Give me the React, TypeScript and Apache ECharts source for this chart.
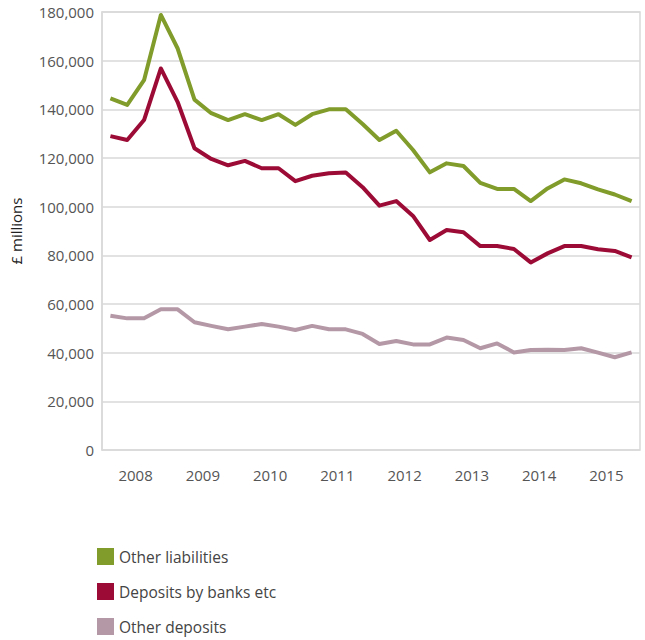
import React, { useEffect, useRef } from "react";
import * as echarts from "echarts";

const quarters: string[] = Array.from({ length: 32 }, (_, i) => `Q${i + 1}`);

const otherLiabilities = [
  144.5, 141.8, 152, 178.8, 165, 144, 138.4, 135.6, 138, 135.6, 138, 133.6, 138, 140, 140, 134,
  127.4, 131.2, 123.3, 114.1, 117.8, 116.7, 109.8, 107.3, 107.3, 102.3, 107.5, 111.2, 109.6, 107.1, 105, 102.3,
].map((v) => v * 1000);

const depositsByBanks = [
  129, 127.4, 135.6, 156.8, 143, 124, 119.6, 117, 118.8, 115.8, 115.8, 110.5, 112.7, 113.7, 114, 108,
  100.4, 102.3, 96.2, 86.3, 90.4, 89.5, 83.8, 83.8, 82.6, 77.1, 80.8, 83.8, 83.8, 82.5, 81.8, 79.2,
].map((v) => v * 1000);

const otherDeposits = [
  55.2, 54.1, 54.1, 57.8, 57.8, 52.5, 51, 49.6, 50.7, 51.8, 50.7, 49.3, 51, 49.6, 49.6, 47.7,
  43.6, 44.8, 43.4, 43.4, 46.2, 45.2, 41.8, 43.8, 40.1, 41.1, 41.2, 41.1, 41.8, 40, 38.1, 40.1,
].map((v) => v * 1000);

const yearLabels = ["2008", "2009", "2010", "2011", "2012", "2013", "2014", "2015"];
const yearPositions = [2, 6, 10, 14, 18, 22, 26, 30];

const FONT = "Open Sans";

export default function App() {
  const ref = useRef<HTMLDivElement>(null);
  useEffect(() => {
    document.body.style.margin = "0";
    if (!ref.current) return;
    const chart = echarts.init(ref.current, null, { renderer: "svg" });
    chart.setOption({
      animation: false,
      textStyle: { fontFamily: FONT },
      grid: {
        left: 97,
        right: 5,
        top: 12,
        bottom: 190,
        containLabel: false,
        show: true,
        borderColor: "#d9d9d9",
        borderWidth: 1.5,
      },
      legend: {
        orient: "vertical",
        left: 97,
        top: 548,
        padding: 0,
        icon: "rect",
        itemWidth: 17,
        itemHeight: 17,
        itemGap: 18,
        textStyle: { fontFamily: FONT, fontSize: 15.5, color: "#444" },
        data: ["Other liabilities", "Deposits by banks etc", "Other deposits"],
      },
      xAxis: [
        {
          type: "category",
          data: quarters,
          boundaryGap: true,
          axisLine: { show: false },
          axisTick: { show: false },
          axisLabel: { show: false },
          splitLine: { show: false },
        },
        {
          type: "value",
          position: "bottom",
          min: 0,
          max: 32,
          interval: 2,
          axisLine: { show: false },
          axisTick: { show: false },
          splitLine: { show: false },
          axisLabel: {
            margin: 17,
            fontFamily: FONT,
            fontSize: 15,
            color: "#555",
            formatter: (v: number) => {
              const idx = yearPositions.findIndex((p) => Math.abs(p - v) < 0.01);
              return idx >= 0 ? yearLabels[idx] : "";
            },
          },
        },
      ],
      yAxis: {
        type: "value",
        min: 0,
        max: 180000,
        interval: 20000,
        name: "£ millions",
        nameLocation: "middle",
        nameGap: 79,
        nameTextStyle: { fontFamily: FONT, fontSize: 15, color: "#222" },
        axisLine: { show: true, lineStyle: { color: "#d9d9d9", width: 1.5 } },
        axisTick: { show: false },
        axisLabel: {
          margin: 8,
          fontFamily: FONT,
          fontSize: 15,
          color: "#555",
          formatter: (v: number) => v.toLocaleString("en-GB"),
        },
        splitLine: { show: true, lineStyle: { color: "#d9d9d9", width: 1.5 } },
      },
      series: [
        {
          name: "Other liabilities",
          type: "line",
          data: otherLiabilities,
          symbol: "none",
          itemStyle: { color: "#819c2b" },
          lineStyle: { color: "#819c2b", width: 4, join: "round" },
        },
        {
          name: "Deposits by banks etc",
          type: "line",
          data: depositsByBanks,
          symbol: "none",
          itemStyle: { color: "#9c0b36" },
          lineStyle: { color: "#9c0b36", width: 4, join: "round" },
        },
        {
          name: "Other deposits",
          type: "line",
          data: otherDeposits,
          symbol: "none",
          itemStyle: { color: "#b598a6" },
          lineStyle: { color: "#b598a6", width: 4, join: "round" },
        },
      ],
    });
    return () => chart.dispose();
  }, []);
  return <div ref={ref} style={{ width: 645, height: 640 }} />;
}
